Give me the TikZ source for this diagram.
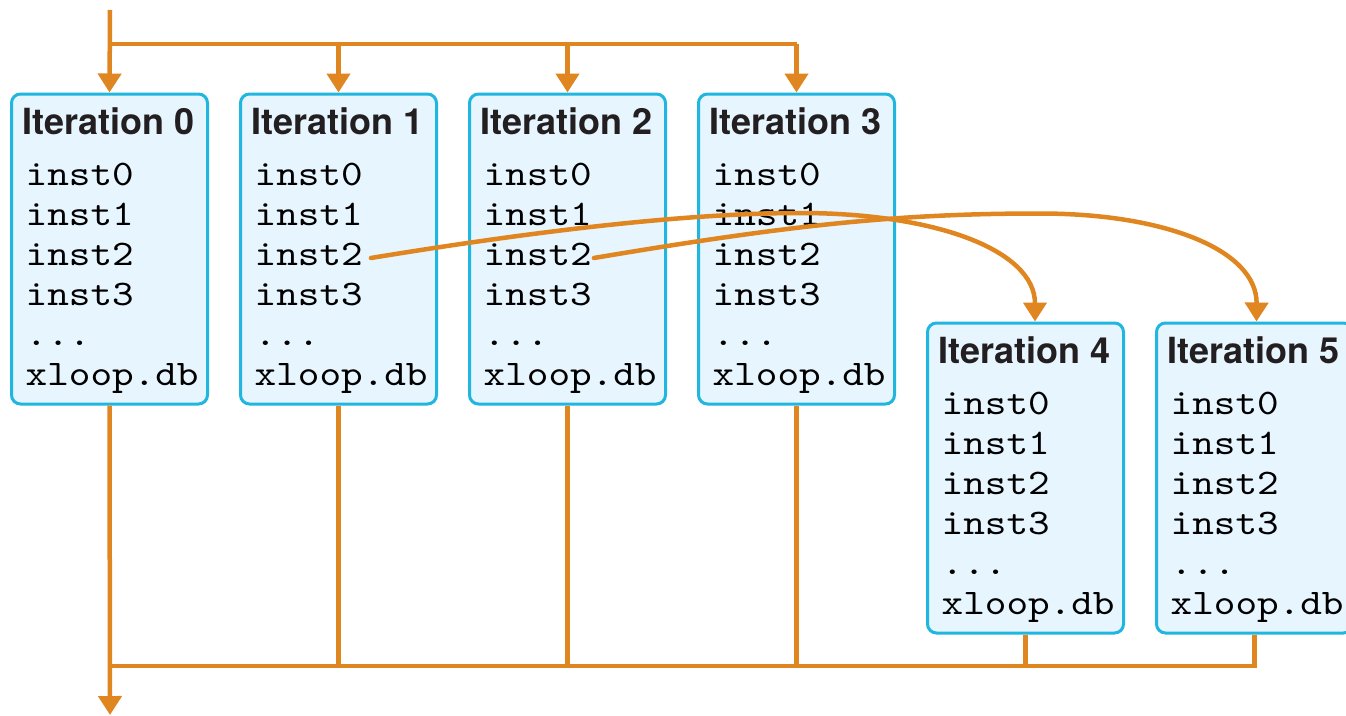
\documentclass[tikz,border=0pt]{standalone}
\usepackage{fontspec}
\setsansfont{TeX Gyre Heros}
\setmonofont{lmmono10-regular.otf}[FakeStretch=1.143]
\usetikzlibrary{arrows.meta}

\definecolor{flowc}{RGB}{224,134,32}
\definecolor{boxline}{RGB}{32,182,224}
\definecolor{boxfill}{RGB}{231,245,254}
\definecolor{titlec}{RGB}{35,31,32}

\tikzset{
  iterbox/.style={draw=boxline, fill=boxfill, line width=3pt, rounded corners=9pt,
    minimum width=196pt, minimum height=310pt, inner sep=0pt},
  itertitle/.style={anchor=base west, inner sep=0pt, text=titlec,
    font=\sffamily\bfseries\fontsize{36}{40}\selectfont},
  codeline/.style={anchor=base west, inner sep=0pt, text=black,
    font=\ttfamily\fontsize{36}{40}\selectfont},
  flow/.style={draw=flowc, line width=4.5pt},
  tip/.style={-{Triangle[width=23pt,length=19pt]}},
}

% one iteration box: #1 index, #2 left edge, #3 top edge
\newcommand\iterationbox[3]{%
  \node[iterbox] (b#1) at (#2+98, #3+155) {};
  \node[itertitle] (t#1) at (#2+11, #3+40) {Iteration #1};
  \node[codeline] (b#1-l0) at (#2+14, #3+91)  {inst0};
  \node[codeline] (b#1-l1) at (#2+14, #3+131) {inst1};
  \node[codeline] (b#1-l2) at (#2+14, #3+171) {inst2};
  \node[codeline] (b#1-l3) at (#2+14, #3+211) {inst3};
  \node[codeline] (b#1-l4) at (#2+14, #3+251) {...};
  \node[codeline] (b#1-l5) at (#2+14, #3+291) {xloop.db};
}

\begin{document}
\begin{tikzpicture}[x=1pt, y=-1pt]
  \useasboundingbox (0,0) rectangle (1346,715);
  \clip (0,0) rectangle (1346,715);

  % boxes
  \iterationbox{0}{11.5}{94}
  \iterationbox{1}{240.5}{94}
  \iterationbox{2}{469.5}{94}
  \iterationbox{3}{698.5}{94}
  \iterationbox{4}{927.5}{323}
  \iterationbox{5}{1156.5}{323}

  % fan-out at the top
  \coordinate (src) at (110,10);
  \coordinate (split) at (110,44);
  \draw[flow, tip] (src) -- (b0.north);
  \draw[flow] (split) -- (split -| b3.north);
  \foreach \k in {1,2,3}
    \draw[flow, tip] (split -| b\k.north) -- (b\k.north);

  % fan-in at the bottom
  \coordinate (join) at (110,666);
  \coordinate (sink) at (110,715);
  \draw[flow, line join=miter] (b5.south) |- (join);
  \draw[flow, tip] (b0.south) -- (sink);
  \foreach \k in {1,2,3,4}
    \draw[flow] (b\k.south) -- (b\k.south |- join);

  % carried dependencies
  \coordinate (s1) at ([xshift=8pt, yshift=7pt]b1-l2.base east);
  \coordinate (s2) at ([xshift=2pt, yshift=7pt]b2-l2.base east);
  \coordinate (e1) at ([xshift=9.5pt]b4.north);
  \coordinate (e2) at ([xshift=2pt]b5.north);
  \draw[flow, tip, line cap=round] (s1)
    .. controls (520,233.5) and (680,213) .. (800,213)
    .. controls (935,213) and (1035,250) .. (e1);
  \draw[flow, tip, line cap=round] (s2)
    .. controls (792,224.6) and (900,213.5) .. (1040,213.5)
    .. controls (1165,213.5) and (1257,250) .. (e2);
\end{tikzpicture}
\end{document}
